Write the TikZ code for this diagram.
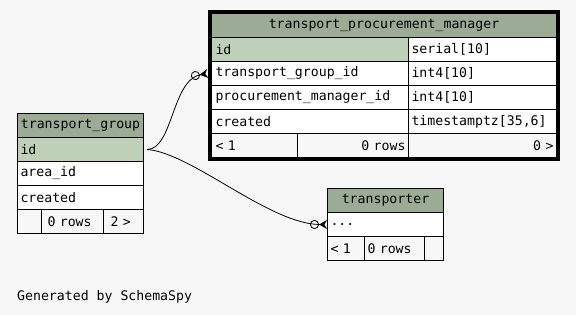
\documentclass[tikz,border=0pt]{standalone}
\usepackage{fontspec}
\setmonofont{DejaVu Sans Mono}
\usetikzlibrary{arrows.meta,fit,positioning}

\definecolor{headfill}{HTML}{9BAB96}
\definecolor{keyfill}{HTML}{BED1B8}
\definecolor{pagefill}{HTML}{F7F7F7}

\tikzset{
	cell/.style={draw, line width=1pt, minimum height=24pt, inner xsep=3pt, inner ysep=0pt, anchor=north west, font=\ttfamily\fontsize{13.2}{15}\selectfont},
	relation/.style={line width=0.8pt, -{Circle[open,length=9pt,width=9pt] Stealth[reversed,length=8pt,width=9pt]}},
}

% name, x, y, width, fill, align, text
\newcommand{\tcell}[7]{%
	\pgfmathsetlengthmacro{\cellw}{#4pt-6pt}%
	\node[cell, fill=#5, minimum width=#4pt, text width=\cellw, align=#6] (#1) at (#2,#3) {#7};}

\begin{document}
\begin{tikzpicture}[x=1pt, y=-1pt]
			\path[use as bounding box, fill=pagefill] (0,0) rectangle (576,315);

			\tcell{tpmhead}{211}{13}{345}{headfill}{center}{transport\_procurement\_manager}
			\tcell{tpmid}{211}{37}{197}{keyfill}{left}{\hspace*{1pt}id}
			\tcell{tpmidtype}{408}{37}{148}{white}{left}{serial[10]}
			\tcell{tpmgroup}{211}{61}{197}{white}{left}{\hspace*{1pt}transport\_group\_id}
			\tcell{tpmgrouptype}{408}{61}{148}{white}{left}{int4[10]}
			\tcell{tpmmanager}{211}{85}{197}{white}{left}{\hspace*{1pt}procurement\_manager\_id}
			\tcell{tpmmanagertype}{408}{85}{148}{white}{left}{int4[10]}
			\tcell{tpmcreated}{211}{109}{197}{white}{left}{\hspace*{1pt}created}
			\tcell{tpmcreatedtype}{408}{109}{148}{white}{left}{timestamptz[35,6]}
			\tcell{tpmfootA}{211}{133}{86}{pagefill}{left}{\hspace*{1pt}< 1}
			\tcell{tpmfootB}{297}{133}{111}{pagefill}{right}{0 rows\hspace*{6pt}}
			\tcell{tpmfootC}{408}{133}{148}{pagefill}{right}{0 >\hspace*{6pt}}
			\node[draw, line width=3.5pt, inner sep=1.5pt, fit=(tpmhead)(tpmfootC)] (tpm) {};

			\tcell{tghead}{17}{113}{126}{headfill}{center}{transport\_group}
			\tcell{tgid}{17}{137}{126}{keyfill}{left}{id}
			\tcell{tgarea}{17}{161}{126}{white}{left}{area\_id}
			\tcell{tgcreated}{17}{185}{126}{white}{left}{created}
			\tcell{tgfootA}{17}{209}{24}{pagefill}{left}{}
			\tcell{tgfootB}{41}{209}{62}{pagefill}{left}{\hspace*{3pt}0 rows}
			\tcell{tgfootC}{103}{209}{40}{pagefill}{left}{\hspace*{4pt}2 >}

			\tcell{trhead}{327}{188}{116}{headfill}{center}{transporter}
			\tcell{trdots}{327}{212}{116}{white}{left}{...}
			\tcell{trfootA}{327}{236}{37}{pagefill}{left}{< 1}
			\tcell{trfootB}{364}{236}{60}{pagefill}{left}{0 rows}
			\tcell{trfootC}{424}{236}{19}{pagefill}{left}{}

			% foreign keys pointing at transport_group.id
			\draw[relation] ([xshift=3pt]tgid.east) .. controls +(26,0) and +(-36,6) .. (tpmgroup.west -| tpm.west);
			\draw[relation] ([xshift=3pt]tgid.east) .. controls +(44,3) and +(-57,0) .. (trdots.west);

			\node[anchor=base west, inner sep=0pt, font=\ttfamily\fontsize{13.2}{15}\selectfont] (credit) at (17,301) {Generated by SchemaSpy};
		\end{tikzpicture}
\end{document}
